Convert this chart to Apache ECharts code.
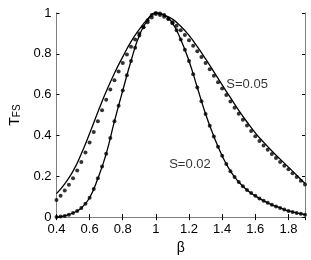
<!DOCTYPE html>
<html><head><meta charset="utf-8">
<script src="https://cdn.jsdelivr.net/npm/echarts@6/dist/echarts.min.js"></script>
<style>html,body{margin:0;padding:0;background:#fff}#c{width:311px;height:260px}</style>
</head><body><div id="c"></div>
<script>
// x positions of the solid curves (step 0.05) and of the dots (step 0.025)
var betaLine = [0.40,0.45,0.50,0.55,0.60,0.65,0.70,0.75,0.80,0.85,0.90,0.95,1.00,1.05,1.10,1.15,1.20,1.25,1.30,1.35,1.40,1.45,1.50,1.55,1.60,1.65,1.70,1.75,1.80,1.85,1.90];
var betaDots = [0.400,0.425,0.450,0.475,0.500,0.525,0.550,0.575,0.600,0.625,0.650,0.675,0.700,0.725,0.750,0.775,0.800,0.825,0.850,0.875,0.900,0.925,0.950,0.975,1.000,1.025,1.050,1.075,1.100,1.125,1.150,1.175,1.200,1.225,1.250,1.275,1.300,1.325,1.350,1.375,1.400,1.425,1.450,1.475,1.500,1.525,1.550,1.575,1.600,1.625,1.650,1.675,1.700,1.725,1.750,1.775,1.800,1.825,1.850,1.875,1.900];

// S = 0.05 solid curve
var wideLine = [0.115,0.163,0.225,0.31,0.41,0.515,0.615,0.705,0.785,0.86,0.92,0.97,1.00,0.99,0.97,0.935,0.89,0.835,0.775,0.712,0.648,0.585,0.523,0.466,0.413,0.367,0.324,0.284,0.245,0.205,0.165];
// S = 0.02 solid curve
var narrowLine = [0.001,0.006,0.02,0.045,0.095,0.19,0.31,0.47,0.62,0.765,0.89,0.965,1.00,0.99,0.95,0.87,0.765,0.635,0.505,0.395,0.30,0.225,0.172,0.133,0.104,0.08,0.06,0.045,0.03,0.02,0.012];
// S = 0.05 dots
var wideDots = [0.084,0.105,0.13,0.158,0.19,0.228,0.27,0.316,0.365,0.417,0.47,0.523,0.575,0.625,0.67,0.713,0.755,0.797,0.835,0.87,0.90,0.93,0.955,0.978,0.995,
  0.99,0.982,0.97,0.955,0.937,0.915,0.892,0.867,0.84,0.813,0.785,0.755,0.724,0.693,0.661,0.63,0.598,0.567,0.536,0.506,0.477,0.449,0.422,0.396,0.373,0.351,0.33,0.309,0.289,0.27,0.252,0.234,0.215,0.197,0.178,0.16];
// S = 0.02 dots
var narrowDots = [0.001,0.003,0.006,0.011,0.02,0.03,0.045,0.066,0.095,0.138,0.19,0.248,0.31,0.388,0.47,0.545,0.62,0.695,0.765,0.83,0.89,0.93,0.965,0.99,1.00,
  0.997,0.99,0.972,0.95,0.915,0.87,0.82,0.765,0.70,0.635,0.568,0.505,0.448,0.395,0.345,0.30,0.26,0.225,0.196,0.172,0.151,0.133,0.118,0.104,0.091,0.08,0.07,0.06,0.052,0.045,0.037,0.03,0.025,0.02,0.016,0.012];

var annotations = [{text:'S=0.05', beta:1.425, t:0.65},{text:'S=0.02', beta:1.08, t:0.257}];

function zip(xs, ys){ return xs.map(function(x,i){ return [x, ys[i]]; }); }

var FONT = 'Liberation Sans';
var axisGray = '#7f7f7f';
var chart = echarts.init(document.getElementById('c'), null, {renderer:'canvas'});
chart.setOption({
  animation:false,
  textStyle:{fontFamily:FONT},
  grid:{left:43, right:6, top:13, bottom:41},
  xAxis:[{
    type:'value', min:0.4, max:1.9, interval:0.2,
    name:'β', nameLocation:'middle', nameGap:22,
    nameTextStyle:{fontFamily:FONT, fontSize:14, color:'#000'},
    axisLine:{lineStyle:{color:axisGray, width:1}},
    axisTick:{inside:true, length:3, lineStyle:{color:'#000'}},
    axisLabel:{color:'#000', fontSize:13, fontFamily:FONT, margin:6, showMaxLabel:false,
      formatter:function(v){ return (Math.round(v*10)/10).toString(); }},
    splitLine:{show:false}
  },{
    type:'value', position:'top', min:0.4, max:1.9, interval:0.2,
    axisLine:{lineStyle:{color:axisGray}},
    axisTick:{inside:true, length:3, lineStyle:{color:'#000'}},
    axisLabel:{show:false}, splitLine:{show:false}
  }],
  yAxis:[{
    type:'value', min:0, max:1, interval:0.2,
    name:'{a|T}{b|FS}', nameLocation:'middle', nameGap:31, nameRotate:90,
    nameTextStyle:{color:'#000', rich:{a:{fontSize:14, fontFamily:FONT, color:'#000'}, b:{fontSize:10, fontFamily:FONT, color:'#000', padding:[5,0,0,0]}}},
    axisLine:{lineStyle:{color:axisGray, width:1}},
    axisTick:{inside:true, length:3, lineStyle:{color:'#000'}},
    axisLabel:{color:'#000', fontSize:13, fontFamily:FONT, margin:5,
      formatter:function(v){ return (Math.round(v*10)/10).toString(); }},
    splitLine:{show:false}
  },{
    type:'value', position:'right', min:0, max:1, interval:0.2,
    axisLine:{show:true, lineStyle:{color:axisGray}},
    axisTick:{inside:true, length:3, lineStyle:{color:'#000'}},
    axisLabel:{show:false}, splitLine:{show:false}
  }],
  series:[
    {type:'line', data:zip(betaLine, wideLine), smooth:0.5, showSymbol:false, lineStyle:{color:'#000', width:1.3}},
    {type:'line', data:zip(betaLine, narrowLine), smooth:0.5, showSymbol:false, lineStyle:{color:'#000', width:1.3}},
    {type:'scatter', data:zip(betaDots, wideDots), symbol:'circle', symbolSize:4, itemStyle:{color:'#000'}},
    {type:'scatter', data:zip(betaDots, narrowDots), symbol:'circle', symbolSize:4, itemStyle:{color:'#000'}},
    {type:'scatter', symbolSize:0, silent:true,
      data:annotations.map(function(a){ return {value:[a.beta, a.t], label:{formatter:a.text}}; }),
      label:{show:true, position:'right', distance:0, color:'#000', fontSize:13, fontFamily:FONT}}
  ]
});
</script></body></html>
